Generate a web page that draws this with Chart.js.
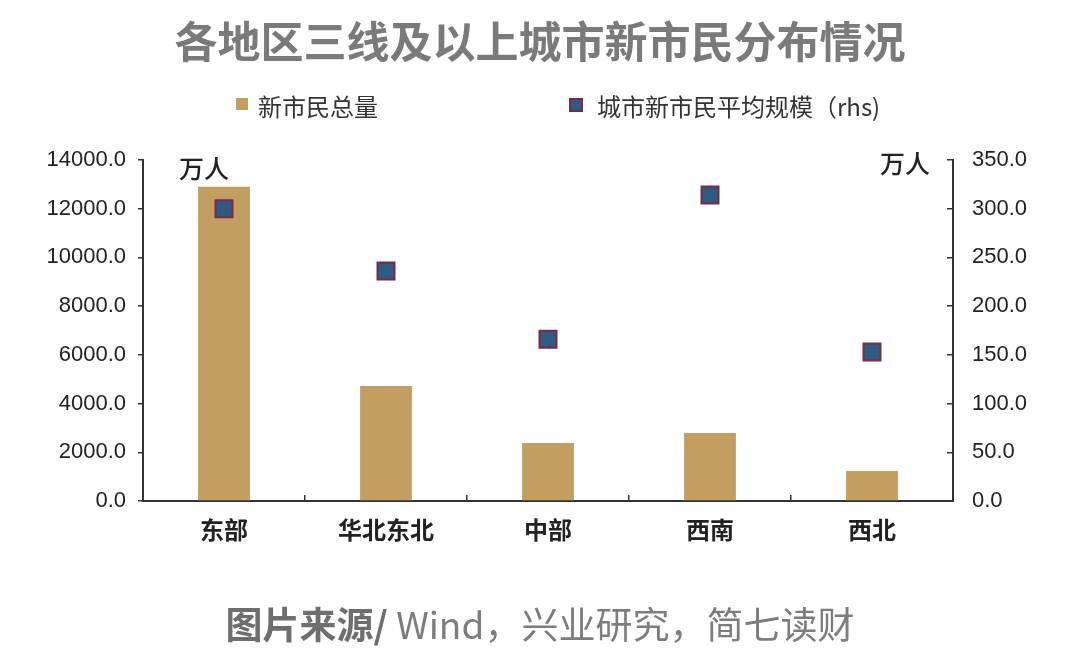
<!DOCTYPE html>
<html lang="zh">
<head>
<meta charset="UTF-8">
<title>各地区三线及以上城市新市民分布情况</title>
<script src="https://cdn.jsdelivr.net/npm/chart.js@4.4.0/dist/chart.umd.min.js"></script>
<style>
    body { margin: 0; background: #fff; font-family: "Noto Sans CJK SC", "Noto Sans", sans-serif; }
    #wrap { position: relative; width: 1080px; height: 667px; }
    #chart { position: absolute; left: 0; top: 0; }
    .title { position: absolute; left: 0; width: 1080px; top: 8px; text-align: center;
             font-size: 43px; font-weight: 700; color: #7a7a7a; }
    .legend { position: absolute; top: 88px; font-size: 24px; color: #333; white-space: nowrap; }
    .legend .box { position: absolute; top: 10px; }
    .source { position: absolute; left: 0; width: 1080px; top: 596px; text-align: center;
              font-size: 37px; color: #7d7d7d; }
    .source b { color: #6e6e6e; }
</style>
</head>
<body>
<div id="wrap">
    <canvas id="chart" width="1080" height="667"></canvas>
    <div class="title">各地区三线及以上城市新市民分布情况</div>
    <div class="legend" style="left:236px"><span class="box" style="left:0;width:12px;height:12px;background:#c39e63"></span><span style="margin-left:22px">新市民总量</span></div>
    <div class="legend" style="left:569px"><span class="box" style="left:0;width:10px;height:10px;background:#2f5b82;border:2px solid #7a2a45"></span><span style="margin-left:28px">城市新市民平均规模（rhs)</span></div>
    <div class="source"><b>图片来源/</b> Wind，兴业研究，简七读财</div>
</div>

<script>
    // chart data
    const regions = ['东部', '华北东北', '中部', '西南', '西北'];
    const totalNewCitizens = [12900, 4720, 2380, 2790, 1230];   // 万人, left axis
    const avgCityScale = [300, 236, 166, 314, 153];             // 万人, right axis
    const leftTicks = [0, 2000, 4000, 6000, 8000, 10000, 12000, 14000];
    const rightTicks = [0, 50, 100, 150, 200, 250, 300, 350];

    const axisColor = '#333';
    const tickFont = { family: '"Liberation Sans", Arial, sans-serif', size: 22 };

    // "万人" unit labels at the top of both axes
    const unitLabels = {
        id: 'unitLabels',
        afterDraw(chart) {
            const { ctx, chartArea } = chart;
            ctx.save();
            ctx.fillStyle = '#222';
            ctx.font = '500 25px "Noto Sans CJK SC"';
            ctx.textBaseline = 'middle';
            ctx.textAlign = 'left';
            ctx.fillText('万人', chartArea.left + 36, chartArea.top + 8);
            ctx.textAlign = 'right';
            ctx.fillText('万人', chartArea.right - 23, chartArea.top + 3);
            ctx.restore();
        }
    };

    new Chart(document.getElementById('chart'), {
        data: {
            labels: regions,
            datasets: [
                {
                    type: 'line',
                    label: '城市新市民平均规模（rhs)',
                    data: avgCityScale,
                    yAxisID: 'y1',
                    showLine: false,
                    pointStyle: 'rect',
                    pointRadius: 12,
                    pointBackgroundColor: '#2f5b82',
                    pointBorderColor: '#7a2a45',
                    pointBorderWidth: 2,
                    order: 0
                },
                {
                    type: 'bar',
                    label: '新市民总量',
                    data: totalNewCitizens,
                    yAxisID: 'y',
                    backgroundColor: '#c39e63',
                    barPercentage: 0.32,
                    categoryPercentage: 1,
                    order: 1
                }
            ]
        },
        options: {
            responsive: false,
            animation: false,
            layout: { padding: { top: 160, left: 0, right: 0, bottom: 0 } },
            plugins: {
                legend: { display: false },
                tooltip: { enabled: false }
            },
            scales: {
                x: {
                    grid: { display: true, offset: true, drawOnChartArea: false, tickLength: -6, color: axisColor, lineWidth: 1.5 },
                    border: { color: axisColor, width: 2 },
                    ticks: { color: '#222', padding: 20, font: { family: '"Noto Sans CJK SC"', size: 24, weight: 600 } },
                    afterFit(scale) { scale.height = 166; }
                },
                y: {
                    position: 'left',
                    min: 0,
                    max: 14000,
                    afterBuildTicks(scale) { scale.ticks = leftTicks.map(v => ({ value: v })); },
                    grid: { drawOnChartArea: false, tickLength: 5, color: axisColor, lineWidth: 1.5 },
                    border: { color: axisColor, width: 2 },
                    ticks: { color: '#222', padding: 12, font: tickFont, callback: v => v.toFixed(1) },
                    afterFit(scale) { scale.width = 143; }
                },
                y1: {
                    position: 'right',
                    min: 0,
                    max: 350,
                    afterBuildTicks(scale) { scale.ticks = rightTicks.map(v => ({ value: v })); },
                    grid: { drawOnChartArea: false, tickLength: -6, color: axisColor, lineWidth: 1.5 },
                    border: { color: axisColor, width: 2 },
                    ticks: { color: '#222', padding: 25, font: tickFont, callback: v => v.toFixed(1) },
                    afterFit(scale) { scale.width = 127; }
                }
            }
        },
        plugins: [unitLabels]
    });
</script>
</body>
</html>
